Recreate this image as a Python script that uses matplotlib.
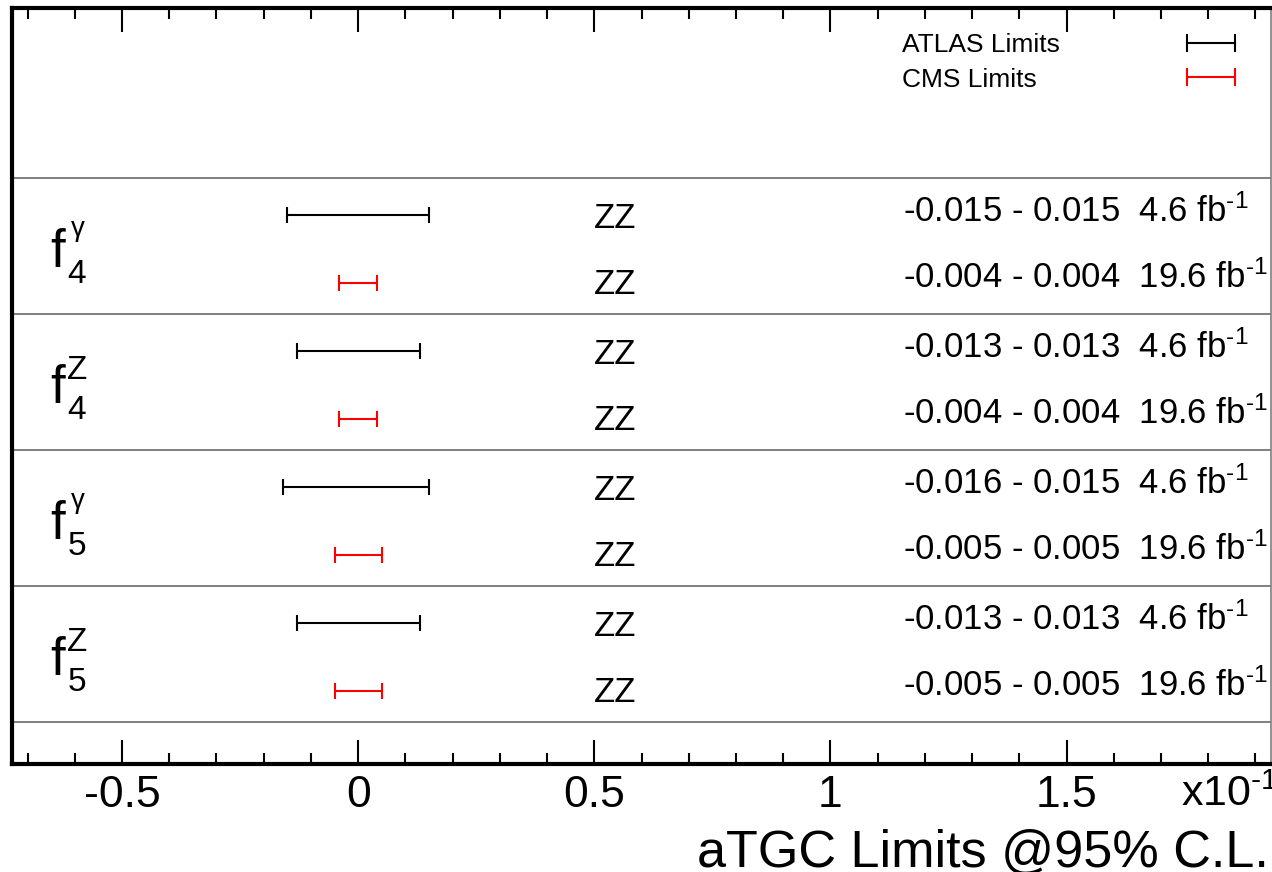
import matplotlib
matplotlib.use("Agg")
import matplotlib.pyplot as plt
from matplotlib.ticker import MultipleLocator, FuncFormatter

# ---- data (limits in absolute units; axis drawn in units of 10^-1) ----
param_base = ["f", "f", "f", "f"]
param_sub = ["4", "4", "5", "5"]
param_sup = ["γ", "Z", "γ", "Z"]
channel = ["ZZ", "ZZ", "ZZ", "ZZ"]
atlas_lo = [-0.015, -0.013, -0.016, -0.013]
atlas_hi = [0.015, 0.013, 0.015, 0.013]
cms_lo = [-0.004, -0.004, -0.005, -0.005]
cms_hi = [0.004, 0.004, 0.005, 0.005]
atlas_lumi = "4.6"
cms_lumi = "19.6"
axis_scale = 10.0  # axis shown as x10^-1

plt.rcParams["font.family"] = ["Liberation Sans", "DejaVu Sans"]
plt.rcParams["mathtext.fontset"] = "custom"
plt.rcParams["mathtext.rm"] = "Liberation Sans"
plt.rcParams["mathtext.it"] = "Liberation Sans:italic"
plt.rcParams["axes.unicode_minus"] = False

fig = plt.figure(figsize=(12.72, 8.72), dpi=100)
ax = fig.add_axes([12 / 1272, 1 - 764 / 872, 1259 / 1272, 756 / 872])

ax.set_xlim(-0.733, 1.933)
ax.set_ylim(8.62, -2.5)

n = len(atlas_lo)
# separators
for k in range(n + 1):
    ax.axhline(2 * k, color="#7f7f7f", lw=1.4, zorder=1)

for k in range(n):
    b = 2 * k
    alo, ahi = atlas_lo[k] * axis_scale, atlas_hi[k] * axis_scale
    clo, chi = cms_lo[k] * axis_scale, cms_hi[k] * axis_scale
    ac = (alo + ahi) / 2
    cc = (clo + chi) / 2
    ax.errorbar([ac], [b + 0.54], xerr=[[ac - alo], [ahi - ac]], fmt="none",
                ecolor="black", elinewidth=1.5, capsize=6, capthick=1.5, zorder=3)
    ax.errorbar([cc], [b + 1.55], xerr=[[cc - clo], [chi - cc]], fmt="none",
                ecolor="red", elinewidth=1.5, capsize=6, capthick=1.5, zorder=3)
    ax.text(0.5, b + 0.735, channel[k], fontsize=25, ha="left", va="baseline")
    ax.text(0.5, b + 1.705, channel[k], fontsize=25, ha="left", va="baseline")
    ax.text(1.153, b + 0.64,
            f"{atlas_lo[k]:.3f} - {atlas_hi[k]:.3f}  {atlas_lumi} fb" + r"$^{\text{-1}}$",
            fontsize=25, ha="left", va="baseline")
    ax.text(1.153, b + 1.61,
            f"{cms_lo[k]:.3f} - {cms_hi[k]:.3f}  {cms_lumi} fb" + r"$^{\text{-1}}$",
            fontsize=25, ha="left", va="baseline")
    # parameter label  f_n^V
    ax.text(-0.652, b + 1.309, param_base[k], fontsize=38, ha="left", va="baseline")
    ax.text(-0.616, b + 1.544, param_sub[k], fontsize=24, ha="left", va="baseline")
    if param_sup[k] == "Z":
        ax.text(-0.616, b + 0.956, param_sup[k], fontsize=24, ha="left", va="baseline")
    else:
        ax.text(-0.608, b + 0.56, param_sup[k], fontsize=20, ha="left", va="top")

# legend (manual)
ax.text(0.707, 1 - 44 / 756, "ATLAS Limits", transform=ax.transAxes, fontsize=19,
        ha="left", va="baseline")
ax.text(0.707, 1 - 79 / 756, "CMS Limits", transform=ax.transAxes, fontsize=19,
        ha="left", va="baseline")
ax.plot([0.933, 0.9714], [1 - 35 / 756] * 2, color="black", lw=1.5, marker="|",
        markersize=13, mew=1.5, transform=ax.transAxes, clip_on=False)
ax.plot([0.933, 0.9714], [1 - 69 / 756] * 2, color="red", lw=1.5, marker="|",
        markersize=13, mew=1.5, transform=ax.transAxes, clip_on=False)

# axes styling
for side in ["left", "top", "bottom"]:
    ax.spines[side].set_linewidth(3)
    ax.spines[side].set_color("black")
ax.spines["right"].set_linewidth(1.2)
ax.spines["right"].set_color("#7f7f7f")

ax.xaxis.set_major_locator(MultipleLocator(0.5))
ax.xaxis.set_minor_locator(MultipleLocator(0.1))
ax.xaxis.set_major_formatter(FuncFormatter(lambda v, p: f"{v:g}"))
ax.tick_params(axis="x", which="both", direction="in", top=True, bottom=True,
               width=1.5, color="black", labelsize=32, pad=8)
ax.tick_params(axis="x", which="major", length=17)
ax.tick_params(axis="x", which="minor", length=8)
ax.set_yticks([])

fig.text(1181 / 1272, 1 - 806 / 872, r"x10$^{\text{-1}}$", fontsize=31,
         ha="left", va="baseline")
fig.text(1269 / 1272, 1 - 867 / 872, "aTGC Limits @95% C.L.", fontsize=37.5,
         ha="right", va="baseline")

fig.savefig("out.png", dpi=100)
